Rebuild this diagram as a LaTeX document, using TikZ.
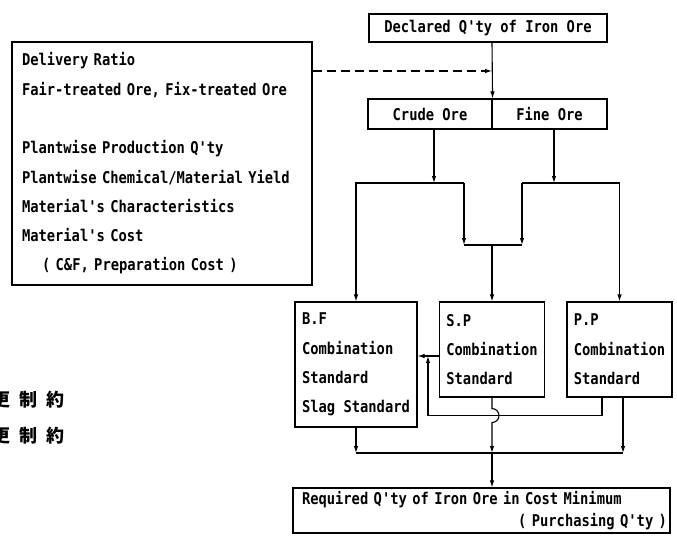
\documentclass[tikz,border=0pt]{standalone}
\usepackage{fontspec}
\setmonofont[FakeStretch=0.85]{DejaVu Sans Mono}
\newfontfamily\jpfont{Noto Sans CJK JP}
\usetikzlibrary{arrows.meta}

\begin{document}
\begin{tikzpicture}[
  x=1pt, y=-1pt,
  font=\ttfamily\bfseries\fontsize{16.2}{29.3}\selectfont, >={Latex[length=7pt,width=4.5pt]},
  st/.style={draw, line width=1.1pt, align=left, inner xsep=6.5pt, inner ysep=0pt},
  fl/.style={->, line width=1.1pt},
  jp/.style={anchor=west, inner sep=0pt, font=\jpfont\bfseries\fontsize{18}{18}\selectfont},
]
\useasboundingbox (0,0) rectangle (677,543);
% boxes
\node[st, minimum width=238pt, minimum height=28pt] (decl) at (488,28) {Declared Q'ty of Iron Ore};
\node[st, text width=280pt, inner xsep=10pt, minimum height=243pt] (cond) at (162,163.5) {Delivery Ratio\\Fair-treated Ore, Fix-treated Ore\\~\\Plantwise Production Q'ty\\Plantwise Chemical/Material Yield\\Material's Characteristics\\Material's Cost\\\hspace*{20pt}( C\&F, Preparation Cost )};
\node[st, minimum width=124pt, minimum height=30pt] (crude) at (430,114) {Crude Ore};
\node[st, minimum width=115pt, minimum height=30pt] (fine) at (549.5,114) {Fine Ore};
\node[st, minimum width=122pt, minimum height=125pt] (bf) at (356,364.5) {B.F\\Combination\\Standard\\Slag Standard};
\node[st, minimum width=104pt, minimum height=95pt] (sp) at (492,349.5) {S.P\\Combination\\Standard};
\node[st, minimum width=105pt, minimum height=95pt] (pp) at (619.5,349.5) {P.P\\Combination\\Standard};
\node[st, text width=371pt, inner xsep=3pt, minimum height=45pt, font=\ttfamily\bfseries\fontsize{16.2}{21.5}\selectfont] (req) at (481.5,510.5) {\hspace*{6pt}Required Q'ty of Iron Ore in Cost Minimum\\\hspace*{\fill}( Purchasing Q'ty )};
% side notes
\node[jp] (jpa) at (-8,400) {更\hspace{9pt}制\hspace{9pt}約};
\node[jp] (jpb) at (-8,436) {更\hspace{9pt}制\hspace{9pt}約};
% junctions
\coordinate (jn) at (492,71);
\coordinate (lb) at (464,183);
\coordinate (rb) at (522,183);
\coordinate (cb) at (492,245);
\coordinate (fbk) at (428,356);
\coordinate (bus) at (492,453);
% flow
\draw[fl] (decl.south -| jn) -- (crude.north east);
\draw[fl, dashed, dash pattern=on 9pt off 5pt] (cond.east |- jn) -- (jn);
\draw[fl] ([xshift=4pt]crude.south) -- ([xshift=4pt]crude.south |- lb);
\draw[fl] ([xshift=4.5pt]fine.south) -- ([xshift=4.5pt]fine.south |- rb);
\draw[fl] (lb) -| (bf.north);
\draw[fl] (rb) -| (pp.north);
\draw[fl] (lb) -- (lb |- cb);
\draw[fl] (rb) -- (rb |- cb);
\draw[line width=1.1pt] (lb |- cb) -- (rb |- cb);
\draw[fl] (cb) -- (sp.north);
\draw[fl] (sp.west |- fbk) -- (bf.east |- fbk);
\draw[fl] ([xshift=-17.5pt]pp.south) -- ++(0,18) -| (fbk);
\draw[fl] (sp.south) -- ++(0,11) arc[start angle=90, end angle=-90, radius=7pt] -- (bus);
\draw[fl] (bf.south) -- (bf.south |- bus);
\draw[fl] ([xshift=3.5pt]pp.south) -- ([xshift=3.5pt]pp.south |- bus);
\draw[line width=1.1pt] (bf.south |- bus) -- ([xshift=3.5pt]pp.south |- bus);
\draw[fl] (bus) -- (req.north -| bus);
\end{tikzpicture}
\end{document}
